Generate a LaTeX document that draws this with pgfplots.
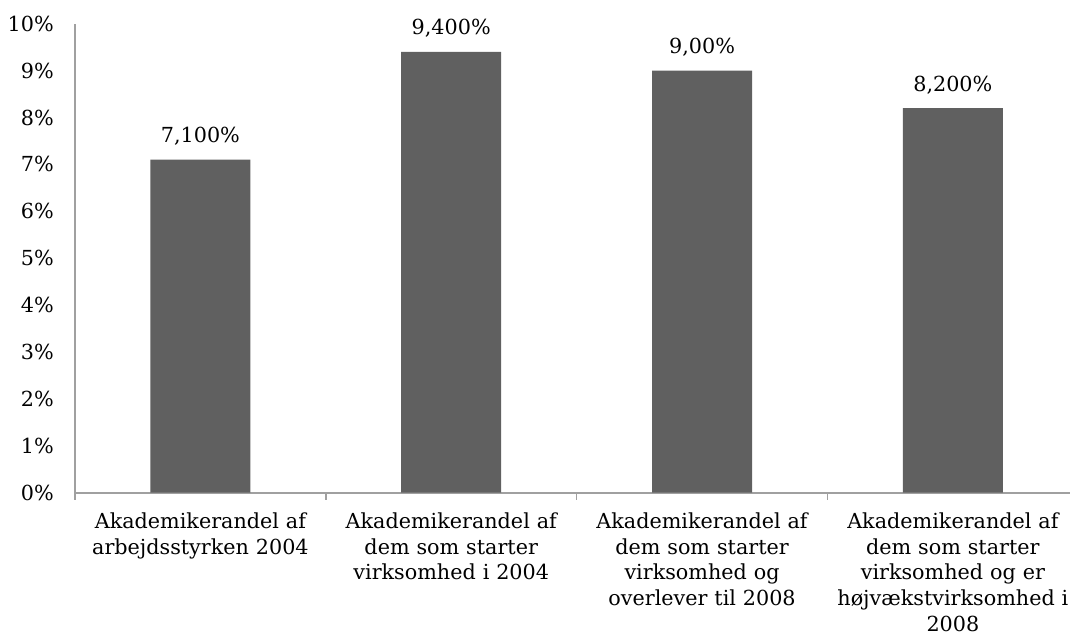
\documentclass[border=0pt]{standalone}
\usepackage{fontspec}
\setmainfont{DejaVu Serif}
\usepackage{pgfplots}
\pgfplotsset{compat=1.18}
\definecolor{barc}{RGB}{96,96,96}
\definecolor{axc}{RGB}{160,160,160}
\begin{document}
\begin{tikzpicture}[font=\fontsize{20.8}{25.7}\selectfont]
\begin{axis}[
  scale only axis, width=995bp, height=469bp,
  xmin=-0.5, xmax=3.467, ymin=0, ymax=10,
  axis x line=bottom, axis y line=left,
  axis line style={draw=axc, line width=1.6bp, -},
  xtick={0,1,2,3},
  xticklabels={{Akademikerandel af\\arbejdsstyrken 2004},
               {Akademikerandel af\\dem som starter\\virksomhed i 2004},
               {Akademikerandel af\\dem som starter\\virksomhed og\\overlever til 2008},
               {Akademikerandel af\\dem som starter\\virksomhed og er\\højvækstvirksomhed i\\2008}},
  xticklabel style={align=center, text width=245bp, anchor=north, inner sep=0pt, yshift=-20bp, font=\fontsize{20.8}{25.7}\selectfont},
  ytick={0,1,2,3,4,5,6,7,8,9,10},
  yticklabels={0\%,1\%,2\%,3\%,4\%,5\%,6\%,7\%,8\%,9\%,10\%},
  yticklabel style={anchor=east, inner sep=0pt, xshift=-21bp, font=\fontsize{20.8}{25.7}\selectfont},
  major tick length=0pt,
  minor xtick={-0.5,0.5,1.5,2.5},
  minor tick length=7bp, tick align=outside,
  minor tick style={draw=axc, line width=1.6bp},
  major tick style={draw=none},
  ybar, bar width=100bp, bar shift=0pt,
  nodes near coords, point meta=explicit symbolic,
  every node near coord/.style={anchor=base, inner sep=0pt, yshift=17bp, black, font=\fontsize{20.8}{25.7}\selectfont},
  clip=false
]
\addplot[fill=barc, draw=none] coordinates {
  (0,7.1) [7,100\%]
  (1,9.4) [9,400\%]
  (2,9.0) [9,00\%]
  (3,8.2) [8,200\%]
};
\end{axis}
\pgfresetboundingbox
\path[use as bounding box] ([xshift=-75bp,yshift=-145.3bp]current axis.south west) rectangle ([yshift=23.7bp]current axis.north east);
\end{tikzpicture}
\end{document}
